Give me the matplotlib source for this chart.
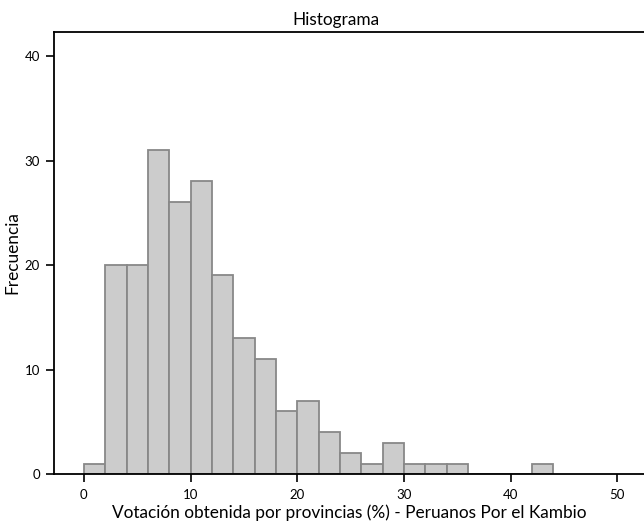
import matplotlib
matplotlib.use("Agg")
import matplotlib.pyplot as plt
import numpy as np

plt.rcParams['font.family'] = ['Lato', 'DejaVu Sans']

bin_edges = [0, 2, 4, 6, 8, 10, 12, 14, 16, 18, 20, 22, 24, 26, 28, 30, 32, 34, 36, 38, 40, 42, 44]
counts = [1, 20, 20, 31, 26, 28, 19, 13, 11, 6, 7, 4, 2, 1, 3, 1, 1, 1, 0, 0, 0, 1]
x_ticks = [0, 10, 20, 30, 40, 50]
y_ticks = [0, 10, 20, 30, 40]

fig = plt.figure(figsize=(6.44, 5.22), dpi=100)
ax = fig.add_axes([54/644, 48/522, 590/644, 442/522])

ax.hist(bin_edges[:-1], bins=bin_edges, weights=counts,
        color='#cccccc', edgecolor='#888888', linewidth=1.3)

ax.set_xlim(-2.8, 52.5)
ax.set_ylim(0, 42.3)
ax.set_xticks(x_ticks)
ax.set_yticks(y_ticks)
ax.tick_params(direction='out', length=6, width=1.2, labelsize=9.5, colors='black')
ax.tick_params(axis='x', pad=5)
ax.tick_params(axis='y', pad=4)
for s in ['left', 'bottom', 'top']:
    ax.spines[s].set_linewidth(1.3)
ax.spines['right'].set_visible(False)

ax.set_xlabel('Votación obtenida por provincias (%) - Peruanos Por el Kambio', fontsize=12.4, labelpad=2)
ax.set_ylabel('Frecuencia', fontsize=12.4, labelpad=3)
fig.text(336/644, 1 - 20/522, 'Histograma', ha='center', va='center', fontsize=12.4)

fig.savefig('out.png', dpi=100)
